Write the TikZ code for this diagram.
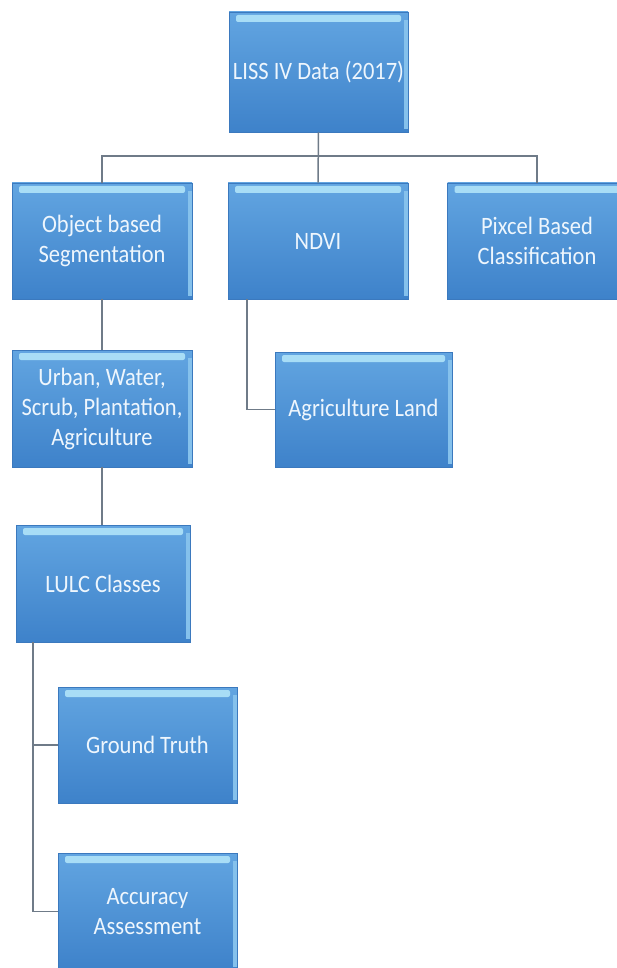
\documentclass[tikz,border=0pt]{standalone}
\usepackage{fontspec}
\setmainfont{Carlito}[FakeStretch=0.9]
\begin{document}
\begin{tikzpicture}[x=1pt,y=-1pt,
  box/.style={rectangle, minimum width=179pt, minimum height=116pt,
    top color=boxtop, bottom color=boxbot, draw=boxedge, line width=0.8pt,
    text=boxtext, align=center, inner sep=2pt,
    font=\fontsize{25}{30}\selectfont,
    path picture={
      \fill[hilite, rounded corners=2pt] ([xshift=7pt,yshift=-3pt]path picture bounding box.north west) rectangle ([xshift=-7pt,yshift=-10pt]path picture bounding box.north east);
      \fill[hilite!50!boxtop] ([xshift=-4pt,yshift=-8pt]path picture bounding box.north east) rectangle ([yshift=3pt]path picture bounding box.south east);
    }},
  link/.style={draw=linegray, line width=1.5pt}]
\definecolor{boxtop}{HTML}{62A5E1}
\definecolor{boxbot}{HTML}{3E82CA}
\definecolor{boxedge}{HTML}{3B79BE}
\definecolor{boxtext}{HTML}{EEF6FD}
\definecolor{hilite}{HTML}{A8DDF6}
\definecolor{linegray}{HTML}{6F7B88}
\useasboundingbox (0,0) rectangle (617,968);

\node[box, minimum height=120pt] (top) at (318.5,72) {LISS IV Data (2017)};
\node[box, minimum width=180pt] (obj) at (102,241) {Object based\\Segmentation};
\node[box, minimum width=180pt] (ndvi) at (318,241) {NDVI};
\node[box] (pix) at (537,241) {Pixcel Based\\Classification};
\node[box, minimum width=180pt, minimum height=117pt] (urban) at (102,408.5) {Urban, Water,\\Scrub, Plantation,\\Agriculture};
\node[box, minimum width=177pt, minimum height=115pt] (agri) at (363.5,409.5) {Agriculture Land};
\node[box, minimum width=174pt, minimum height=117pt] (lulc) at (103,583.5) {LULC Classes};
\node[box] (ground) at (147.5,745) {Ground Truth};
\node[box, minimum height=117pt] (acc) at (147.5,911.5) {Accuracy\\Assessment};

\coordinate (hb) at (318.5,156);
\draw[link] (top.south) -- (ndvi.north);
\draw[link] (obj.north) |- (hb) -| (pix.north);
\draw[link] (obj.south) -- (urban.north);
\draw[link] (urban.south) -- (lulc.north -| urban.south);
\draw[link] ([xshift=-71pt]ndvi.south) |- (agri.west);
\draw[link] ([xshift=-70pt]lulc.south) |- (ground.west);
\draw[link] ([xshift=-70pt]lulc.south) |- (acc.west);
\end{tikzpicture}
\end{document}
